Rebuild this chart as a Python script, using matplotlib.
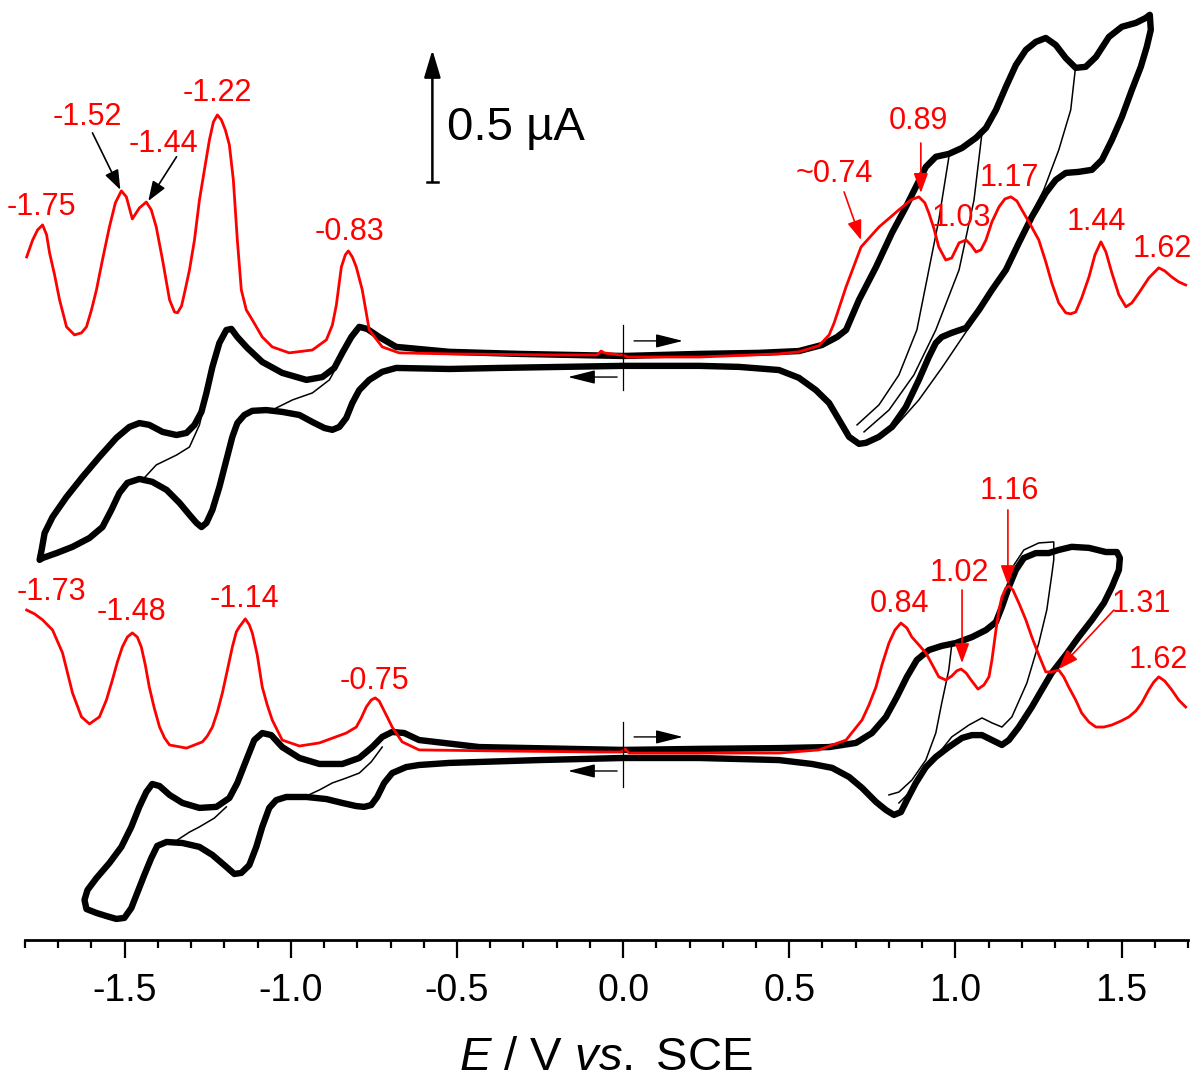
import matplotlib.pyplot as plt
from matplotlib.ticker import FixedLocator, FormatStrFormatter
import numpy as np

plt.rcParams['font.family'] = ['Liberation Sans', 'DejaVu Sans']
plt.rcParams['axes.unicode_minus'] = False
plt.rcParams['mathtext.fontset'] = 'custom'
plt.rcParams['mathtext.rm'] = 'Liberation Sans'
plt.rcParams['mathtext.it'] = 'Liberation Sans:italic'

# E in V vs. SCE, I in uA (curves stacked with an offset, as in the original)

# upper compound: CV outer loop (start 0 V -> +1.58 V -> -1.76 V -> 0 V)
top_cv_E = [0.000, 0.229, 0.409, 0.529, 0.598, 0.644, 0.671, 0.710, 0.761, 0.809,
            0.851, 0.881, 0.911, 0.941, 0.980, 1.020, 1.062, 1.092, 1.122, 1.152,
            1.182, 1.212, 1.242, 1.272, 1.302, 1.332, 1.362, 1.392, 1.423, 1.462,
            1.501, 1.543, 1.573, 1.585,
            1.588, 1.576, 1.558, 1.531, 1.501, 1.471, 1.441, 1.411, 1.371, 1.332,
            1.302, 1.272, 1.230, 1.191, 1.152, 1.110, 1.071, 1.032, 0.989, 0.959,
            0.941, 0.920, 0.890, 0.851, 0.809, 0.770, 0.731, 0.710, 0.680, 0.650,
            0.620, 0.580, 0.529, 0.469, 0.349, 0.229, 0.000,
            -0.192, -0.373, -0.523, -0.683, -0.725, -0.764, -0.794, -0.815, -0.833, -0.854,
            -0.875, -0.899, -0.935, -0.974, -1.026, -1.074, -1.116, -1.140, -1.161, -1.176,
            -1.194, -1.215, -1.236, -1.254, -1.269, -1.284, -1.305, -1.335, -1.374, -1.417,
            -1.456, -1.492, -1.516, -1.540, -1.567, -1.606, -1.657, -1.705, -1.747, -1.756,
            -1.750, -1.741, -1.717, -1.675, -1.627, -1.576, -1.525, -1.486, -1.456, -1.426,
            -1.386, -1.344, -1.314, -1.290, -1.269, -1.254, -1.236, -1.215, -1.194, -1.179,
            -1.161, -1.131, -1.086, -1.026, -0.953, -0.905, -0.869, -0.845, -0.818, -0.794,
            -0.770, -0.734, -0.683, -0.523, -0.313, 0.000]
top_cv_I = [2.246, 2.254, 2.258, 2.265, 2.288, 2.319, 2.346, 2.462, 2.588, 2.719,
            2.819, 2.896, 2.973, 3.012, 3.023, 3.046, 3.085, 3.123, 3.192, 3.281,
            3.365, 3.423, 3.454, 3.469, 3.442, 3.392, 3.354, 3.358, 3.396, 3.473,
            3.512, 3.527, 3.546, 3.558,
            3.500, 3.435, 3.358, 3.269, 3.165, 3.077, 3.000, 2.962, 2.954, 2.950,
            2.923, 2.873, 2.781, 2.681, 2.577, 2.500, 2.423, 2.354, 2.335, 2.319,
            2.296, 2.242, 2.154, 2.050, 1.973, 1.935, 1.912, 1.908, 1.935, 2.000,
            2.065, 2.115, 2.162, 2.192, 2.204, 2.208, 2.208,
            2.204, 2.200, 2.196, 2.200, 2.185, 2.154, 2.115, 2.065, 2.008, 1.973,
            1.962, 1.969, 1.992, 2.019, 2.031, 2.038, 2.035, 2.019, 1.988, 1.935,
            1.846, 1.742, 1.654, 1.604, 1.588, 1.604, 1.635, 1.681, 1.731, 1.762,
            1.773, 1.758, 1.719, 1.654, 1.588, 1.546, 1.512, 1.488, 1.469, 1.462,
            1.500, 1.565, 1.627, 1.704, 1.781, 1.858, 1.931, 1.973, 1.988, 1.981,
            1.954, 1.942, 1.950, 1.981, 2.031, 2.104, 2.204, 2.296, 2.346, 2.350,
            2.319, 2.277, 2.223, 2.181, 2.154, 2.165, 2.200, 2.258, 2.319, 2.358,
            2.350, 2.319, 2.281, 2.262, 2.254, 2.246]

# scans with earlier switching potentials (thin lines)
top_thin_E = [
    [-1.447, -1.405, -1.344, -1.305, -1.275, -1.257],
    [-1.044, -0.995, -0.935, -0.884, -0.854],
    [0.980, 0.950, 0.914, 0.884, 0.830, 0.770, 0.704],
    [1.080, 1.056, 1.011, 0.941, 0.875, 0.800, 0.725],
    [1.362, 1.347, 1.311, 1.266, 1.230, 1.161, 1.086, 1.026, 0.959, 0.890, 0.815, 0.746],
]
top_thin_I = [
    [1.769, 1.827, 1.865, 1.896, 1.981, 2.077],
    [2.046, 2.077, 2.104, 2.154, 2.223],
    [3.008, 2.769, 2.538, 2.346, 2.173, 2.058, 1.981],
    [3.104, 2.846, 2.577, 2.346, 2.173, 2.038, 1.954],
    [3.362, 3.192, 3.038, 2.885, 2.796, 2.588, 2.442, 2.327, 2.200, 2.077, 1.969, 1.923],
]

# upper compound: DPV
top_dpv_E = [-1.795, -1.777, -1.762, -1.747, -1.735, -1.726, -1.711, -1.696, -1.675, -1.651,
             -1.630, -1.615, -1.600, -1.585, -1.567, -1.546, -1.528, -1.510, -1.495, -1.477,
             -1.456, -1.435, -1.420, -1.405, -1.386, -1.365, -1.350, -1.341, -1.329, -1.320,
             -1.305, -1.290, -1.275, -1.260, -1.245, -1.233, -1.221, -1.209, -1.197, -1.185,
             -1.173, -1.161, -1.149, -1.134, -1.116, -1.086, -1.056, -1.005, -0.935, -0.893,
             -0.875, -0.863, -0.848, -0.836, -0.827, -0.815, -0.803, -0.785, -0.764, -0.725,
             -0.674, -0.523, -0.223, -0.078, -0.066, -0.057, -0.012, 0.000, 0.012, 0.229,
             0.469, 0.529, 0.589, 0.620, 0.635, 0.671, 0.716, 0.770, 0.830, 0.866,
             0.890, 0.908, 0.920, 0.935, 0.950, 0.971, 0.989, 1.011, 1.032, 1.047,
             1.062, 1.077, 1.092, 1.110, 1.131, 1.149, 1.167, 1.185, 1.200, 1.221,
             1.251, 1.272, 1.290, 1.311, 1.332, 1.347, 1.362, 1.380, 1.402, 1.420,
             1.438, 1.453, 1.471, 1.492, 1.513, 1.531, 1.552, 1.582, 1.612, 1.630,
             1.651, 1.672, 1.693]
top_dpv_I = [2.627, 2.692, 2.731, 2.750, 2.712, 2.642, 2.558, 2.462, 2.358, 2.327,
             2.335, 2.358, 2.423, 2.500, 2.615, 2.742, 2.835, 2.881, 2.858, 2.773,
             2.815, 2.838, 2.808, 2.742, 2.615, 2.462, 2.415, 2.412, 2.438, 2.488,
             2.577, 2.692, 2.846, 2.962, 3.077, 3.146, 3.173, 3.154, 3.115, 3.058,
             2.923, 2.692, 2.500, 2.423, 2.385, 2.319, 2.281, 2.258, 2.269, 2.308,
             2.365, 2.442, 2.588, 2.635, 2.650, 2.627, 2.588, 2.500, 2.346, 2.281,
             2.258, 2.254, 2.250, 2.250, 2.265, 2.258, 2.250, 2.250, 2.242, 2.242,
             2.254, 2.262, 2.285, 2.327, 2.373, 2.512, 2.665, 2.742, 2.808, 2.846,
             2.858, 2.835, 2.796, 2.738, 2.665, 2.615, 2.623, 2.681, 2.692, 2.673,
             2.646, 2.654, 2.692, 2.762, 2.819, 2.850, 2.858, 2.842, 2.808, 2.762,
             2.692, 2.608, 2.527, 2.450, 2.412, 2.408, 2.415, 2.469, 2.550, 2.635,
             2.685, 2.646, 2.565, 2.481, 2.435, 2.450, 2.488, 2.546, 2.585, 2.573,
             2.550, 2.531, 2.519]

# lower compound: CV outer loop
bot_cv_E = [0.000, 0.229, 0.469, 0.620, 0.701, 0.749, 0.791, 0.824, 0.854, 0.884,
            0.920, 0.959, 1.001, 1.050, 1.092, 1.122, 1.140, 1.161, 1.182, 1.206,
            1.242, 1.281, 1.311, 1.350, 1.402, 1.453, 1.486, 1.495, 1.492,
            1.471, 1.447, 1.411, 1.371, 1.332, 1.290, 1.260, 1.230, 1.191, 1.161,
            1.140, 1.110, 1.080, 1.050, 1.020, 0.980, 0.941, 0.911, 0.881, 0.854,
            0.836, 0.815, 0.791, 0.761, 0.719, 0.680, 0.629, 0.568, 0.469, 0.229,
            0.000,
            -0.253, -0.523, -0.614, -0.653, -0.695, -0.719, -0.740, -0.758, -0.779, -0.803,
            -0.845, -0.893, -0.953, -1.014, -1.044, -1.065, -1.086, -1.104, -1.125, -1.149,
            -1.170, -1.194, -1.236, -1.275, -1.326, -1.374, -1.402, -1.420, -1.441, -1.462,
            -1.480, -1.501, -1.525, -1.555, -1.585, -1.615,
            -1.621, -1.612, -1.585, -1.546, -1.510, -1.480, -1.456, -1.435, -1.417, -1.395,
            -1.365, -1.326, -1.275, -1.224, -1.185, -1.161, -1.134, -1.110, -1.086, -1.059,
            -1.026, -0.974, -0.914, -0.845, -0.794, -0.755, -0.725, -0.695, -0.659, -0.614,
            -0.433, 0.000]
bot_cv_I = [0.731, 0.735, 0.738, 0.742, 0.758, 0.796, 0.858, 0.935, 1.012, 1.077,
            1.115, 1.131, 1.142, 1.165, 1.192, 1.223, 1.281, 1.358, 1.423, 1.469,
            1.488, 1.488, 1.500, 1.512, 1.508, 1.492, 1.492, 1.469, 1.423,
            1.358, 1.296, 1.231, 1.165, 1.096, 1.027, 0.962, 0.896, 0.819, 0.769,
            0.750, 0.769, 0.788, 0.788, 0.777, 0.742, 0.704, 0.665, 0.604, 0.538,
            0.492, 0.481, 0.500, 0.531, 0.585, 0.627, 0.662, 0.677, 0.692, 0.700,
            0.700,
            0.692, 0.681, 0.673, 0.665, 0.642, 0.604, 0.550, 0.519, 0.512, 0.515,
            0.527, 0.542, 0.550, 0.550, 0.538, 0.508, 0.435, 0.358, 0.288, 0.258,
            0.254, 0.281, 0.327, 0.358, 0.373, 0.377, 0.362, 0.315, 0.250, 0.181,
            0.123, 0.085, 0.081, 0.092, 0.104, 0.119,
            0.154, 0.192, 0.238, 0.296, 0.358, 0.435, 0.512, 0.569, 0.600, 0.592,
            0.558, 0.527, 0.508, 0.512, 0.546, 0.604, 0.692, 0.769, 0.796, 0.788,
            0.742, 0.700, 0.677, 0.677, 0.700, 0.742, 0.781, 0.800, 0.796, 0.769,
            0.742, 0.731]

bot_thin_E = [
    [-1.341, -1.305, -1.275, -1.230, -1.194],
    [-0.953, -0.914, -0.875, -0.833, -0.794, -0.758, -0.725],
    [0.989, 0.980, 0.959, 0.941, 0.911, 0.869, 0.830, 0.800],
    [1.176, 1.206, 1.251, 1.296, 1.296, 1.290, 1.275, 1.251, 1.215, 1.170,
     1.140, 1.110, 1.080, 1.041, 0.989, 0.941, 0.890, 0.860, 0.830],
]
bot_thin_I = [
    [0.385, 0.415, 0.435, 0.469, 0.512],
    [0.554, 0.577, 0.604, 0.623, 0.642, 0.685, 0.742],
    [1.135, 1.038, 0.912, 0.796, 0.692, 0.615, 0.569, 0.558],
    [1.442, 1.500, 1.527, 1.531, 1.462, 1.404, 1.269, 1.142, 0.988, 0.858,
     0.819, 0.835, 0.854, 0.827, 0.781, 0.704, 0.615, 0.565, 0.527],
]

# lower compound: DPV
bot_dpv_E = [-1.795, -1.771, -1.747, -1.717, -1.687, -1.657, -1.630, -1.606, -1.576, -1.555,
             -1.537, -1.522, -1.507, -1.492, -1.477, -1.462, -1.450, -1.438, -1.426, -1.411,
             -1.395, -1.380, -1.365, -1.314, -1.266, -1.251, -1.236, -1.221, -1.206, -1.191,
             -1.176, -1.164, -1.155, -1.137, -1.125, -1.116, -1.101, -1.086, -1.071, -1.056,
             -1.026, -0.974, -0.914, -0.833, -0.803, -0.788, -0.773, -0.758, -0.746, -0.734,
             -0.725, -0.710, -0.695, -0.665, -0.614, -0.373, -0.072, -0.006, 0.006, 0.018,
             0.229, 0.469, 0.589, 0.671, 0.719, 0.740, 0.761, 0.779, 0.800, 0.818,
             0.836, 0.854, 0.869, 0.890, 0.911, 0.929, 0.950, 0.971, 0.989, 1.004,
             1.017, 1.032, 1.047, 1.068, 1.086, 1.101, 1.110, 1.122, 1.131, 1.140,
             1.152, 1.161, 1.173, 1.191, 1.212, 1.230, 1.251, 1.272, 1.290, 1.311,
             1.326, 1.341, 1.362, 1.380, 1.402, 1.423, 1.447, 1.471, 1.498, 1.522,
             1.543, 1.561, 1.582, 1.597, 1.612, 1.630, 1.651, 1.672, 1.693]
bot_dpv_I = [1.269, 1.254, 1.231, 1.192, 1.104, 0.950, 0.858, 0.831, 0.858, 0.923,
             1.000, 1.069, 1.127, 1.165, 1.181, 1.165, 1.127, 1.058, 0.973, 0.892,
             0.819, 0.777, 0.750, 0.738, 0.762, 0.785, 0.819, 0.877, 0.950, 1.038,
             1.127, 1.185, 1.204, 1.235, 1.212, 1.181, 1.096, 0.973, 0.904, 0.846,
             0.769, 0.746, 0.758, 0.796, 0.819, 0.854, 0.896, 0.923, 0.931, 0.919,
             0.896, 0.858, 0.819, 0.762, 0.731, 0.727, 0.723, 0.723, 0.735, 0.719,
             0.719, 0.719, 0.731, 0.769, 0.846, 0.904, 0.973, 1.058, 1.142, 1.192,
             1.219, 1.200, 1.165, 1.135, 1.104, 1.062, 1.012, 1.000, 1.015, 1.035,
             1.042, 1.027, 1.000, 0.965, 0.981, 1.012, 1.077, 1.192, 1.269, 1.319,
             1.354, 1.362, 1.346, 1.296, 1.231, 1.165, 1.096, 1.031, 1.031, 1.038,
             1.012, 0.973, 0.923, 0.873, 0.838, 0.819, 0.819, 0.827, 0.842, 0.858,
             0.881, 0.912, 0.962, 0.992, 1.012, 0.996, 0.962, 0.923, 0.896]

# peak labels (text, E, I of label centre)
top_labels = ['-1.52', '-1.44', '-1.22', '-0.83', '~0.74', '0.89', '1.03', '1.17', '1.44', '1.62']
top_label_E = [-1.612, -1.383, -1.221, -0.824, 0.635, 0.890, 1.017, 1.161, 1.423, 1.624]
top_label_I = [3.165, 3.062, 3.258, 2.723, 2.946, 3.150, 2.777, 2.931, 2.762, 2.658]
bot_labels = ['-1.48', '-1.14', '-0.75', '0.84', '1.02', '1.16', '1.31', '1.62']
bot_label_E = [-1.480, -1.140, -0.749, 0.833, 1.011, 1.161, 1.558, 1.609]
bot_label_I = [1.262, 1.312, 0.996, 1.292, 1.412, 1.727, 1.292, 1.077]

RED = '#ff0000'

fig = plt.figure(figsize=(11.96, 10.82), dpi=100)
ax = fig.add_axes([25 / 1196, 142 / 1082, 1163 / 1196, 940 / 1082])
ax.set_xlim(-1.8, 1.7)
ax.set_ylim(0, 3.615)

thick = dict(color='black', lw=4.6, solid_joinstyle='round', solid_capstyle='round', zorder=2)
thin = dict(color='black', lw=1.1, solid_joinstyle='round', zorder=2)
red = dict(color=RED, lw=2.0, solid_joinstyle='round', zorder=3)

ax.plot(top_cv_E, top_cv_I, **thick)
ax.plot(bot_cv_E, bot_cv_I, **thick)
for e, i in zip(top_thin_E, top_thin_I):
    ax.plot(e, i, **thin)
for e, i in zip(bot_thin_E, bot_thin_I):
    ax.plot(e, i, **thin)
ax.plot(top_dpv_E, top_dpv_I, **red)
ax.plot(bot_dpv_E, bot_dpv_I, **red)

lab_fs = 22
for t, e, i in zip(top_labels, top_label_E, top_label_I):
    ax.text(e, i, t, color=RED, fontsize=lab_fs, ha='center', va='center')
for t, e, i in zip(bot_labels, bot_label_E, bot_label_I):
    ax.text(e, i, t, color=RED, fontsize=lab_fs, ha='center', va='center')
# labels cut at the left edge
ax.text(-1.645, 2.819, '-1.75', color=RED, fontsize=lab_fs, ha='right', va='center')
ax.text(-1.615, 1.338, '-1.73', color=RED, fontsize=lab_fs, ha='right', va='center')


def arrow(tail, tip, color, lw=1.2, hl=0.6, hw=0.22, ms=20):
    ax.annotate('', xy=tip, xytext=tail,
                arrowprops=dict(arrowstyle='-|>,head_length=%g,head_width=%g' % (hl, hw),
                                color=color, lw=lw, mutation_scale=ms,
                                shrinkA=0, shrinkB=0), zorder=4)


arrow((-1.597, 3.104), (-1.513, 2.885), 'black')
arrow((-1.344, 3.012), (-1.429, 2.842), 'black')
arrow((0.665, 2.877), (0.716, 2.692), RED)
arrow((0.896, 3.065), (0.896, 2.873), RED)
arrow((1.020, 1.346), (1.020, 1.065), RED)
arrow((1.158, 1.654), (1.158, 1.365), RED)
arrow((1.477, 1.269), (1.311, 1.042), RED)

# scale bar 0.5 uA
arrow((-0.574, 2.915), (-0.574, 3.423), 'black', lw=1.8, hl=0.6, hw=0.18, ms=28)
ax.plot([-0.590, -0.558], [2.915, 2.915], color='black', lw=1.8)
ax.text(-0.529, 3.123, '0.5 µA', fontsize=34, ha='left', va='center')

# start potential markers and scan direction
for y0, y1, ya, yb in [(2.115, 2.365, 2.304, 2.165), (0.588, 0.838, 0.781, 0.650)]:
    ax.plot([0, 0], [y0, y1], color='black', lw=0.9, zorder=4)
    arrow((0.033, ya), (0.180, ya), 'black', lw=1.0, hl=0.6, hw=0.15, ms=28)
    arrow((-0.018, yb), (-0.166, yb), 'black', lw=1.0, hl=0.6, hw=0.15, ms=28)

for s in ['left', 'right', 'top']:
    ax.spines[s].set_visible(False)
ax.spines['bottom'].set_linewidth(2.0)
ax.set_yticks([])
ax.xaxis.set_major_locator(FixedLocator([-1.5, -1.0, -0.5, 0.0, 0.5, 1.0, 1.5]))
ax.xaxis.set_minor_locator(FixedLocator(np.round(np.arange(-1.8, 1.75, 0.1), 2)))
ax.xaxis.set_major_formatter(FormatStrFormatter('%.1f'))
ax.tick_params(axis='x', which='major', length=13, width=1.6, labelsize=27, pad=11)
ax.tick_params(axis='x', which='minor', length=6, width=1.6)
ax.set_xlabel(r'$E$ / V $vs.$ SCE', fontsize=34, labelpad=19)

fig.savefig('out.png', dpi=100)
